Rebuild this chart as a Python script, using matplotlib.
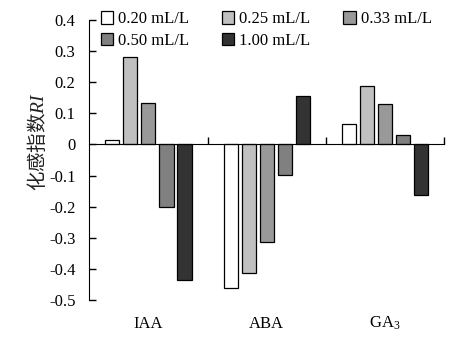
import matplotlib
matplotlib.use('Agg')
import matplotlib.pyplot as plt
import numpy as np

# 化感指数 RI 数据
categories = ['IAA', 'ABA', 'GA$_3$']
concentrations = ['0.20 mL/L', '0.25 mL/L', '0.33 mL/L', '0.50 mL/L', '1.00 mL/L']
ri_020 = [0.013, -0.460, 0.065]
ri_025 = [0.280, -0.414, 0.187]
ri_033 = [0.132, -0.312, 0.129]
ri_050 = [-0.202, -0.099, 0.030]
ri_100 = [-0.437, 0.155, -0.164]
series = [ri_020, ri_025, ri_033, ri_050, ri_100]
colors = ['#ffffff', '#c0c0c0', '#999999', '#808080', '#333333']

plt.rcParams['font.family'] = ['Liberation Serif', 'Noto Sans CJK SC']
plt.rcParams['font.size'] = 12
plt.rcParams['mathtext.fontset'] = 'custom'
plt.rcParams['mathtext.rm'] = 'Liberation Serif'
plt.rcParams['mathtext.it'] = 'Liberation Serif:italic'

fig = plt.figure(figsize=(4.7, 3.46), dpi=100)
ax = fig.add_axes([0.19, 0.133, 0.755, 0.809])

x = np.arange(len(categories))
step = 0.1525
width = 0.119
bars = []
for i, (vals, c, lab) in enumerate(zip(series, colors, concentrations)):
    b = ax.bar(x + (i - 2) * step, vals, width, color=c, edgecolor='black',
               linewidth=0.9, label=lab, zorder=3)
    bars.append(b)

ax.set_xlim(-0.5, 2.5)
ax.set_ylim(-0.5, 0.4)
ax.set_yticks(np.arange(-0.5, 0.41, 0.1))
ax.set_yticklabels(['-0.5', '-0.4', '-0.3', '-0.2', '-0.1', '0', '0.1', '0.2', '0.3', '0.4'])

ax.spines['top'].set_visible(False)
ax.spines['right'].set_visible(False)
ax.spines['bottom'].set_position(('data', 0))
ax.spines['bottom'].set_zorder(4)
ax.set_xticks([0.5, 1.5, 2.5])
ax.set_xticklabels([])
ax.tick_params(axis='both', direction='in', length=5, width=1)
ax.tick_params(axis='y', pad=10)

# 类别名称放在图底部
for xi, name in zip(x, categories):
    ax.text(xi, -0.085, name, transform=ax.get_xaxis_transform(),
            ha='center', va='center', fontsize=12)

ax.set_ylabel('化感指数$RI$', fontsize=14, family='Noto Sans CJK SC', color='#222222')
ax.yaxis.set_label_coords(-0.113, 0.565)

# 图例按行排列
order = [0, 3, 1, 4, 2]
ax.legend([bars[k] for k in order], [concentrations[k] for k in order],
          ncol=3, frameon=False, loc='upper left', bbox_to_anchor=(-0.01, 1.085),
          handlelength=0.75, handleheight=0.75, handletextpad=0.3,
          columnspacing=1.95, labelspacing=0.35, fontsize=12)

fig.savefig('out.png', dpi=100)
